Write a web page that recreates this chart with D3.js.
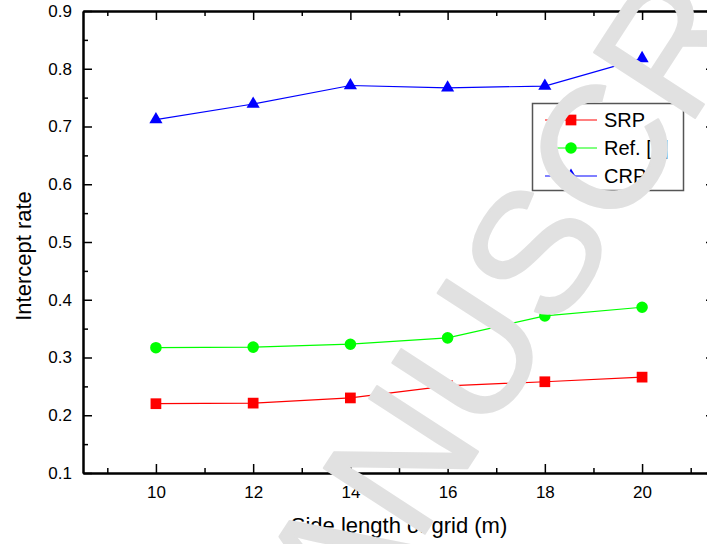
<!DOCTYPE html>
<html>
<head>
<meta charset="utf-8">
<script src="https://cdn.jsdelivr.net/npm/d3@7"></script>
<style>
  body { margin: 0; background: #fff; }
  svg { display: block; font-family: "Liberation Sans", Arial, sans-serif; }
</style>
</head>
<body>
<script>
// values
const sideLength = [10, 12, 14, 16, 18, 20];
const srp = [0.220, 0.221, 0.230, 0.251, 0.258, 0.266];
const ref9 = [0.317, 0.318, 0.323, 0.334, 0.372, 0.387];
const crp = [0.712, 0.739, 0.771, 0.767, 0.770, 0.818];
const xMajor = [10, 12, 14, 16, 18, 20];
const xMinor = [9, 11, 13, 15, 17, 19, 21];
const yMajor = [0.1, 0.2, 0.3, 0.4, 0.5, 0.6, 0.7, 0.8, 0.9];
const yMinor = [0.15, 0.25, 0.35, 0.45, 0.55, 0.65, 0.75, 0.85];

const width = 707, height = 544;
// plot box (right edge runs off the page, as in the original)
const plotL = 83, plotR = 715, plotT = 11, plotB = 473;

const svg = d3.select("body").append("svg")
  .attr("width", width)
  .attr("height", height);

const x = d3.scaleLinear().domain([8.5, 21.5]).range([plotL, plotR]);
const y = d3.scaleLinear().domain([0.1, 0.9]).range([plotB, plotT]);

// axes: ticks point inward, like Origin
function styleAxis(g) {
  g.select(".domain").attr("stroke", "#000").attr("stroke-width", 2);
  g.selectAll(".tick line").attr("stroke", "#000").attr("stroke-width", 1.5);
  g.selectAll(".tick text").attr("fill", "#000").attr("font-size", 17)
    .attr("font-family", "Liberation Sans, Arial, sans-serif");
}

svg.append("g").attr("transform", `translate(0,${plotB})`)
  .call(d3.axisBottom(x).tickValues(xMajor).tickSize(-9).tickSizeOuter(0).tickPadding(13).tickFormat(d3.format("d")))
  .call(styleAxis);
svg.append("g").attr("transform", `translate(0,${plotB})`)
  .call(d3.axisBottom(x).tickValues(xMinor).tickSize(-5).tickSizeOuter(0).tickFormat(""))
  .call(styleAxis);
svg.append("g").attr("transform", `translate(0,${plotT})`)
  .call(d3.axisTop(x).tickValues(xMajor).tickSize(-9).tickSizeOuter(0).tickFormat(""))
  .call(styleAxis);
svg.append("g").attr("transform", `translate(0,${plotT})`)
  .call(d3.axisTop(x).tickValues(xMinor).tickSize(-5).tickSizeOuter(0).tickFormat(""))
  .call(styleAxis);

svg.append("g").attr("transform", `translate(${plotL},0)`)
  .call(d3.axisLeft(y).tickValues(yMajor).tickSize(-9).tickSizeOuter(0).tickPadding(11).tickFormat(d3.format(".1f")))
  .call(styleAxis);
svg.append("g").attr("transform", `translate(${plotL},0)`)
  .call(d3.axisLeft(y).tickValues(yMinor).tickSize(-5).tickSizeOuter(0).tickFormat(""))
  .call(styleAxis);
svg.append("g").attr("transform", `translate(${plotR},0)`)
  .call(d3.axisRight(y).tickValues(yMajor).tickSize(-9).tickSizeOuter(0).tickFormat(""))
  .call(styleAxis);
svg.append("g").attr("transform", `translate(${plotR},0)`)
  .call(d3.axisRight(y).tickValues(yMinor).tickSize(-5).tickSizeOuter(0).tickFormat(""))
  .call(styleAxis);

// axis titles
svg.append("text")
  .attr("x", (plotL + plotR) / 2).attr("y", 533)
  .attr("text-anchor", "middle").attr("font-size", 22)
  .text("Side length of grid (m)");
svg.append("text")
  .attr("transform", "translate(31,256) rotate(-90)")
  .attr("text-anchor", "middle").attr("font-size", 22)
  .text("Intercept rate");

// series
const series = [
  { name: "SRP", values: srp, color: "#ff0000", pale: "#ff8080", shape: d3.symbolSquare, size: 115 },
  { name: "Ref. [9]", values: ref9, color: "#00ff00", pale: "#80ff80", shape: d3.symbolCircle, size: 105 },
  { name: "CRP", values: crp, color: "#0000ff", pale: "#8080ff", shape: d3.symbolTriangle, size: 75 }
];

const line = d3.line()
  .x((d, i) => x(sideLength[i]))
  .y(d => y(d));

series.forEach(s => {
  svg.append("path")
    .datum(s.values)
    .attr("d", line)
    .attr("fill", "none")
    .attr("stroke", s.color)
    .attr("stroke-width", 1.2);
  svg.append("g").selectAll("path")
    .data(s.values)
    .join("path")
    .attr("transform", (d, i) => `translate(${x(sideLength[i])},${y(d)})`)
    .attr("d", d3.symbol().type(s.shape).size(s.size))
    .attr("fill", s.color);
});

// legend
const legend = svg.append("g");
legend.append("rect")
  .attr("x", 532.5).attr("y", 103.5)
  .attr("width", 151).attr("height", 87)
  .attr("fill", "#fff").attr("stroke", "#555").attr("stroke-width", 1.5);
series.forEach((s, i) => {
  const ly = 120 + i * 28;
  legend.append("line")
    .attr("x1", 545).attr("x2", 597)
    .attr("y1", ly).attr("y2", ly)
    .attr("stroke", s.pale).attr("stroke-width", 2);
  legend.append("path")
    .attr("transform", `translate(571,${ly})`)
    .attr("d", d3.symbol().type(s.shape).size(s.size))
    .attr("fill", s.color);
  legend.append("text")
    .attr("x", 604).attr("y", ly + 7)
    .attr("font-size", 20)
    .text(s.name);
});

// watermark across everything
const wm = svg.append("text")
  .attr("font-size", 175)
  .attr("fill", "#e1e1e1")
  .attr("stroke", "#e1e1e1")
  .attr("stroke-width", 2)
  .attr("stroke-linejoin", "round")
  .text("ACCEPTED MANUSCRIPT");
const box = wm.node().getExtentOfChar(14); // the C of MANUSCRIPT
const cx = box.x + box.width / 2, cy = box.y + box.height / 2;
wm.attr("transform", `translate(602,150) rotate(-57) translate(${-cx},${-cy})`);
</script>
</body>
</html>
